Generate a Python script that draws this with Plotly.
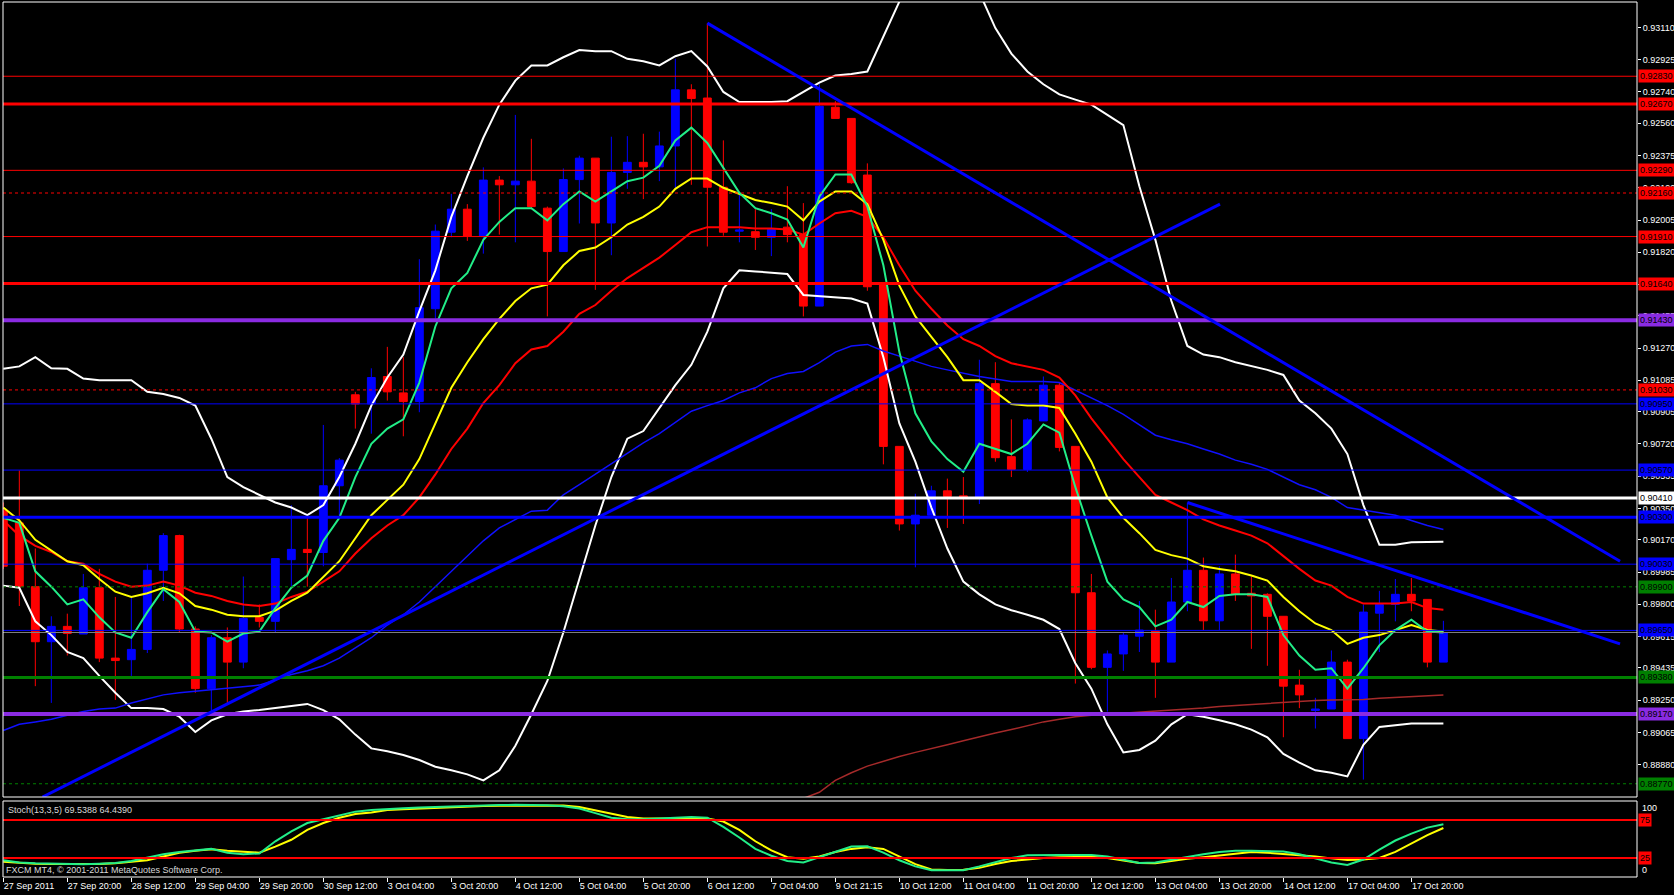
import plotly.graph_objects as go

# ------------------------------------------------------------------ data
bar_index = list(range(91))

open_ = [0.90340, 0.90267, 0.89901, 0.89585, 0.89673, 0.89629, 0.89895, 0.89491, 0.89482, 0.89541,
         0.89995, 0.90194, 0.89658, 0.89316, 0.89608, 0.89468, 0.89725, 0.89702, 0.90056, 0.90115,
         0.90097, 0.90480, 0.91002, 0.90949, 0.91107, 0.91013, 0.90963, 0.91496, 0.91935, 0.92067,
         0.91912, 0.92234, 0.92207, 0.92228, 0.92073, 0.91824, 0.92237, 0.92360, 0.91988, 0.92278,
         0.92336, 0.92310, 0.92430, 0.92752, 0.92705, 0.92193, 0.91941, 0.91938, 0.91906, 0.91964,
         0.91921, 0.91511, 0.92652, 0.92588, 0.92263, 0.91634, 0.90706, 0.90261, 0.90311, 0.90451,
         0.90422, 0.90410, 0.91066, 0.90647, 0.90574, 0.90852, 0.91057, 0.90706, 0.89866, 0.89438,
         0.89515, 0.89617, 0.89646, 0.89468, 0.89813, 0.89995, 0.89705, 0.89974, 0.89863, 0.89857,
         0.89731, 0.89336, 0.89190, 0.89199, 0.89468, 0.89029, 0.89749, 0.89799, 0.89857, 0.89828,
         0.89468]
high = [0.90384, 0.90568, 0.90120, 0.89731, 0.89746, 0.89974, 0.90003, 0.89842, 0.89842, 0.90033,
        0.90208, 0.90199, 0.89673, 0.89623, 0.89667, 0.89959, 0.89799, 0.90062, 0.90369, 0.90296,
        0.90829, 0.90639, 0.91019, 0.91154, 0.91277, 0.91218, 0.91780, 0.91979, 0.92155, 0.92096,
        0.92307, 0.92257, 0.92608, 0.92471, 0.92082, 0.92301, 0.92374, 0.92360, 0.92483, 0.92486,
        0.92500, 0.92512, 0.92930, 0.92784, 0.93135, 0.92462, 0.92149, 0.92067, 0.92067, 0.92199,
        0.92102, 0.92784, 0.92687, 0.92588, 0.92330, 0.91634, 0.90706, 0.90434, 0.90480, 0.90521,
        0.90530, 0.91203, 0.91189, 0.90861, 0.90867, 0.91107, 0.91072, 0.90706, 0.89974, 0.89535,
        0.89638, 0.89819, 0.89769, 0.89951, 0.90384, 0.90068, 0.90018, 0.90085, 0.89959, 0.89863,
        0.89731, 0.89424, 0.89263, 0.89535, 0.89482, 0.89799, 0.89877, 0.89945, 0.89951, 0.89828,
        0.89705]
low = [0.90003, 0.89790, 0.89330, 0.89234, 0.89506, 0.89629, 0.89468, 0.89251, 0.89389, 0.89520,
       0.89819, 0.89638, 0.89292, 0.89184, 0.89228, 0.89433, 0.89667, 0.89638, 0.89901, 0.89901,
       0.90018, 0.90311, 0.90808, 0.90779, 0.90969, 0.90764, 0.90902, 0.91438, 0.91906, 0.91885,
       0.91812, 0.91921, 0.91877, 0.92067, 0.91452, 0.91824, 0.91985, 0.91604, 0.91803, 0.92184,
       0.92125, 0.92228, 0.92184, 0.92207, 0.91853, 0.91915, 0.91877, 0.91833, 0.91798, 0.91877,
       0.91452, 0.91511, 0.92588, 0.92213, 0.91599, 0.90603, 0.90223, 0.90012, 0.90311, 0.90238,
       0.90261, 0.90375, 0.90618, 0.90530, 0.90559, 0.90852, 0.90677, 0.89345, 0.89427, 0.89184,
       0.89418, 0.89526, 0.89263, 0.89468, 0.89760, 0.89652, 0.89652, 0.89819, 0.89544, 0.89447,
       0.89037, 0.89204, 0.89087, 0.89199, 0.89029, 0.88794, 0.89526, 0.89702, 0.89760, 0.89438,
       0.89468]
close = [0.90018, 0.89901, 0.89585, 0.89673, 0.89632, 0.89895, 0.89491, 0.89477, 0.89541, 0.89995,
         0.90194, 0.89658, 0.89316, 0.89608, 0.89468, 0.89719, 0.89702, 0.90062, 0.90115, 0.90097,
         0.90480, 0.90627, 0.90949, 0.91101, 0.91019, 0.90963, 0.91502, 0.91941, 0.92067, 0.91912,
         0.92234, 0.92207, 0.92228, 0.92082, 0.91824, 0.92237, 0.92360, 0.91988, 0.92278, 0.92336,
         0.92310, 0.92430, 0.92752, 0.92702, 0.92193, 0.91935, 0.91947, 0.91906, 0.91950, 0.91921,
         0.91511, 0.92658, 0.92588, 0.92219, 0.91622, 0.90706, 0.90261, 0.90311, 0.90451, 0.90419,
         0.90410, 0.91066, 0.90641, 0.90574, 0.90858, 0.91057, 0.90700, 0.89866, 0.89438, 0.89515,
         0.89623, 0.89652, 0.89468, 0.89813, 0.89995, 0.89705, 0.89974, 0.89857, 0.89848, 0.89731,
         0.89330, 0.89280, 0.89199, 0.89468, 0.89029, 0.89755, 0.89799, 0.89857, 0.89819, 0.89468,
         0.89638]

ma_green = [0.90296, 0.90267, 0.89989, 0.89901, 0.89799, 0.89828, 0.89725, 0.89638, 0.89608, 0.89755,
            0.89886, 0.89813, 0.89643, 0.89638, 0.89585, 0.89632, 0.89643, 0.89778, 0.89895, 0.89965,
            0.90164, 0.90296, 0.90530, 0.90721, 0.90808, 0.90861, 0.91072, 0.91394, 0.91613, 0.91701,
            0.91891, 0.91994, 0.92073, 0.92073, 0.92003, 0.92096, 0.92169, 0.92111, 0.92169, 0.92228,
            0.92248, 0.92316, 0.92462, 0.92535, 0.92447, 0.92301, 0.92161, 0.92073, 0.92044, 0.92008,
            0.91847, 0.92140, 0.92266, 0.92266, 0.92082, 0.91745, 0.91247, 0.90896, 0.90735, 0.90633,
            0.90560, 0.90721, 0.90691, 0.90662, 0.90721, 0.90832, 0.90785, 0.90472, 0.90194, 0.89930,
            0.89828, 0.89784, 0.89673, 0.89711, 0.89813, 0.89784, 0.89848, 0.89857, 0.89857, 0.89842,
            0.89623, 0.89506, 0.89424, 0.89433, 0.89316, 0.89433, 0.89564, 0.89652, 0.89711, 0.89643,
            0.89638]
ma_yellow = [0.90355, 0.90281, 0.90170, 0.90106, 0.90047, 0.90024, 0.89945, 0.89872, 0.89842, 0.89863,
             0.89895, 0.89863, 0.89790, 0.89769, 0.89740, 0.89731, 0.89731, 0.89763, 0.89819, 0.89866,
             0.89959, 0.90047, 0.90179, 0.90311, 0.90399, 0.90486, 0.90633, 0.90838, 0.91042, 0.91189,
             0.91321, 0.91438, 0.91540, 0.91613, 0.91634, 0.91745, 0.91827, 0.91847, 0.91906, 0.91979,
             0.92023, 0.92082, 0.92184, 0.92243, 0.92243, 0.92190, 0.92155, 0.92120, 0.92102, 0.92082,
             0.92003, 0.92111, 0.92169, 0.92169, 0.92096, 0.91891, 0.91628, 0.91452, 0.91335, 0.91218,
             0.91086, 0.91086, 0.91019, 0.90949, 0.90940, 0.90940, 0.90926, 0.90779, 0.90618, 0.90413,
             0.90296, 0.90208, 0.90112, 0.90082, 0.90062, 0.90018, 0.90003, 0.89989, 0.89965, 0.89936,
             0.89842, 0.89760, 0.89690, 0.89652, 0.89573, 0.89608, 0.89623, 0.89652, 0.89681, 0.89652,
             0.89643]
ma_red = [0.90281, 0.90194, 0.90135, 0.90100, 0.90047, 0.90033, 0.89974, 0.89930, 0.89901, 0.89907,
          0.89930, 0.89907, 0.89866, 0.89848, 0.89819, 0.89799, 0.89790, 0.89804, 0.89842, 0.89872,
          0.89930, 0.89989, 0.90091, 0.90179, 0.90252, 0.90311, 0.90413, 0.90545, 0.90691, 0.90808,
          0.90955, 0.91057, 0.91183, 0.91262, 0.91282, 0.91364, 0.91467, 0.91517, 0.91599, 0.91672,
          0.91730, 0.91789, 0.91862, 0.91935, 0.91964, 0.91964, 0.91964, 0.91956, 0.91956, 0.91950,
          0.91921, 0.91985, 0.92044, 0.92058, 0.92023, 0.91906, 0.91745, 0.91599, 0.91496, 0.91400,
          0.91321, 0.91282, 0.91224, 0.91183, 0.91165, 0.91145, 0.91101, 0.90999, 0.90867, 0.90750,
          0.90633, 0.90530, 0.90428, 0.90384, 0.90340, 0.90287, 0.90252, 0.90223, 0.90194, 0.90150,
          0.90077, 0.90003, 0.89936, 0.89907, 0.89842, 0.89804, 0.89804, 0.89804, 0.89813, 0.89778,
          0.89769]
ma_blue = [0.89076, 0.89111, 0.89125, 0.89140, 0.89163, 0.89184, 0.89199, 0.89204, 0.89233, 0.89257,
           0.89280, 0.89292, 0.89301, 0.89307, 0.89316, 0.89324, 0.89336, 0.89365, 0.89397, 0.89418,
           0.89447, 0.89491, 0.89550, 0.89608, 0.89681, 0.89740, 0.89813, 0.89901, 0.89989, 0.90077,
           0.90164, 0.90238, 0.90287, 0.90334, 0.90340, 0.90428, 0.90486, 0.90545, 0.90603, 0.90662,
           0.90726, 0.90779, 0.90843, 0.90908, 0.90940, 0.90969, 0.91013, 0.91042, 0.91095, 0.91124,
           0.91136, 0.91186, 0.91247, 0.91282, 0.91291, 0.91253, 0.91224, 0.91195, 0.91165, 0.91145,
           0.91124, 0.91107, 0.91092, 0.91078, 0.91078, 0.91078, 0.91072, 0.91028, 0.90984, 0.90940,
           0.90890, 0.90829, 0.90770, 0.90744, 0.90721, 0.90691, 0.90662, 0.90627, 0.90603, 0.90574,
           0.90530, 0.90486, 0.90457, 0.90413, 0.90355, 0.90340, 0.90325, 0.90311, 0.90281, 0.90252,
           0.90229]
bb_upper = [0.91151, 0.91165, 0.91218, 0.91154, 0.91151, 0.91095, 0.91086, 0.91086, 0.91086, 0.91019,
            0.91007, 0.90984, 0.90940, 0.90750, 0.90530, 0.90472, 0.90428, 0.90384, 0.90355, 0.90311,
            0.90369, 0.90530, 0.90721, 0.90940, 0.91101, 0.91233, 0.91482, 0.91716, 0.92023, 0.92257,
            0.92477, 0.92667, 0.92805, 0.92892, 0.92892, 0.92939, 0.92980, 0.92974, 0.92974, 0.92930,
            0.92916, 0.92892, 0.92945, 0.92974, 0.92886, 0.92740, 0.92682, 0.92682, 0.92682, 0.92687,
            0.92740, 0.92793, 0.92834, 0.92843, 0.92857, 0.93062, 0.93258, 0.93443, 0.93530, 0.93530,
            0.93443, 0.93311, 0.93106, 0.92960, 0.92857, 0.92784, 0.92726, 0.92696, 0.92667, 0.92608,
            0.92550, 0.92199, 0.91891, 0.91540, 0.91282, 0.91233, 0.91218, 0.91189, 0.91165, 0.91145,
            0.91116, 0.90969, 0.90896, 0.90808, 0.90662, 0.90369, 0.90141, 0.90141, 0.90156, 0.90159,
            0.90159]
bb_lower = [0.89907, 0.89895, 0.89702, 0.89623, 0.89526, 0.89491, 0.89389, 0.89292, 0.89204, 0.89204,
            0.89199, 0.89155, 0.89067, 0.89134, 0.89169, 0.89184, 0.89193, 0.89204, 0.89216, 0.89228,
            0.89193, 0.89140, 0.89052, 0.88973, 0.88956, 0.88935, 0.88906, 0.88868, 0.88847, 0.88824,
            0.88789, 0.88847, 0.88988, 0.89169, 0.89360, 0.89638, 0.89945, 0.90252, 0.90530, 0.90750,
            0.90794, 0.90926, 0.91057, 0.91174, 0.91364, 0.91613, 0.91716, 0.91710, 0.91701, 0.91695,
            0.91575, 0.91569, 0.91563, 0.91555, 0.91525, 0.91218, 0.90838, 0.90618, 0.90355, 0.90120,
            0.89930, 0.89857, 0.89799, 0.89766, 0.89740, 0.89711, 0.89658, 0.89462, 0.89316, 0.89111,
            0.88950, 0.88964, 0.89017, 0.89111, 0.89169, 0.89155, 0.89134, 0.89111, 0.89081, 0.89037,
            0.88941, 0.88891, 0.88847, 0.88833, 0.88812, 0.88994, 0.89096, 0.89105, 0.89116, 0.89116,
            0.89116]
ma_brown_index = list(range(50, 91))
ma_brown = [0.88686, 0.88721, 0.88789, 0.88833, 0.88871, 0.88900, 0.88926, 0.88950, 0.88970, 0.88994,
            0.89017, 0.89040, 0.89061, 0.89081, 0.89105, 0.89125, 0.89140, 0.89155, 0.89163, 0.89169,
            0.89175, 0.89181, 0.89184, 0.89193, 0.89199, 0.89204, 0.89213, 0.89219, 0.89228, 0.89233,
            0.89239, 0.89245, 0.89248, 0.89251, 0.89251, 0.89254, 0.89260, 0.89266, 0.89272, 0.89277,
            0.89280]

stoch_main = [22, 19, 18, 17.5, 17, 16.7, 17.5, 18.5, 21, 26,
              30, 33, 35, 37, 32, 30, 31, 47, 60, 71,
              76, 81, 86, 88, 89.5, 90.5, 91.5, 92.3, 93, 93.4,
              94, 94.7, 95, 95, 94.5, 93, 90, 84, 78, 76,
              76, 77, 78, 79, 78, 66, 52, 37, 28, 21,
              19, 26, 33, 40, 40.5, 32, 22, 14, 9, 8.8,
              9, 14, 20, 25, 28.5, 29, 29, 29, 29, 27,
              23, 18.5, 19, 23, 26.5, 30, 33, 34.6, 34.5, 34,
              33.5, 30, 25, 19, 15.8, 23, 36, 48, 57, 65,
              69.5388]
stoch_signal = [20, 18.5, 17.5, 17, 17, 17, 17, 18, 20, 22,
                27, 32, 34.5, 36.4, 34.5, 33, 32, 40, 49, 62,
                71, 78, 83, 85, 88, 89, 90, 91, 92, 93,
                93.4, 93.8, 94, 94.5, 94.5, 94, 92, 88, 83, 79,
                77, 77, 77, 77, 77, 73, 62, 47, 35, 26,
                24, 27, 33, 37, 39, 37, 27, 17, 10, 9.3,
                9.6, 12, 17, 21, 23, 25, 26, 26.5, 26.7, 25,
                22, 18.5, 18, 21, 24, 26, 28.5, 31, 33, 32,
                30.5, 29, 27, 24.5, 22.4, 23, 25, 33, 44, 55,
                64.4390]
stoch_levels = [75, 25]

time_tick_index = [0, 4, 8, 12, 16, 20, 24, 28, 32, 36, 40, 44, 48, 52, 56, 60, 64, 68, 72, 76, 80, 84, 88]
time_tick_labels = ["27 Sep 2011", "27 Sep 20:00", "28 Sep 12:00", "29 Sep 04:00", "29 Sep 20:00",
                    "30 Sep 12:00", "3 Oct 04:00", "3 Oct 20:00", "4 Oct 12:00", "5 Oct 04:00",
                    "5 Oct 20:00", "6 Oct 12:00", "7 Oct 04:00", "9 Oct 21:15", "10 Oct 12:00",
                    "11 Oct 04:00", "11 Oct 20:00", "12 Oct 12:00", "13 Oct 04:00", "13 Oct 20:00",
                    "14 Oct 12:00", "17 Oct 04:00", "17 Oct 20:00"]
price_tick_values = [0.93110, 0.92925, 0.92740, 0.92560, 0.92375, 0.92190, 0.92005, 0.91820, 0.91635,
                     0.91455, 0.91270, 0.91085, 0.90905, 0.90720, 0.90535, 0.90350, 0.90170, 0.89985,
                     0.89800, 0.89615, 0.89435, 0.89250, 0.89065, 0.88880]

# horizontal levels: price, colour, width, dash
level_prices = [0.92830, 0.92670, 0.92290, 0.92160, 0.91910, 0.91640, 0.91430, 0.91030, 0.90950,
                0.90570, 0.90410, 0.90300, 0.90030, 0.89900, 0.89650, 0.89380, 0.89170, 0.88770, 0.88690]
level_colors = ["#FF0000", "#FF0000", "#FF0000", "#FF0000", "#FF0000", "#FF0000", "#8A2BE2", "#FF0000",
                "#0000FF", "#0000FF", "#FFFFFF", "#0000FF", "#0000FF", "#008000", "#0000FF", "#008000",
                "#8A2BE2", "#008000", "#008000"]
level_widths = [1, 3, 1, 1, 1, 3, 4, 1, 1, 1, 3, 3, 1, 1, 1, 3, 4, 1, 1]
level_dashes = ["solid", "solid", "solid", "3px,3px", "solid", "solid", "solid", "3px,3px", "solid",
                "solid", "solid", "solid", "solid", "3px,3px", "solid", "solid", "solid", "3px,3px", "solid"]

# trend lines (bar index / price of both ends)
trend_x0 = [44.0, 2.45, 74.0]
trend_y0 = [0.93135, 0.88694, 0.90384]
trend_x1 = [101.04, 76.04, 101.04]
trend_y1 = [0.90047, 0.92096, 0.89573]

stoch_caption = "Stoch(13,3,5) 69.5388 64.4390"
copyright_text = "FXCM MT4, \u00a9 2001-2011 MetaQuotes Software Corp."

# ------------------------------------------------------------------ geometry
FIG_W, FIG_H = 1674, 895
PL, PR = 3, 1637
MAIN_T, MAIN_B = 2, 797
STO_T, STO_B = 801, 877
X_RANGE = [-0.02, 102.1]
Y_RANGE = [0.88694, 0.93256]
FONT = "Liberation Sans"


def fx(p):
    return p / FIG_W


def fy(p):
    return 1 - p / FIG_H


fig = go.Figure()

fig.add_trace(go.Candlestick(
    x=bar_index, open=open_, high=high, low=low, close=close,
    increasing=dict(line=dict(color="#0000FF", width=1), fillcolor="#0000FF"),
    decreasing=dict(line=dict(color="#FF0000", width=1), fillcolor="#FF0000"),
    whiskerwidth=0, showlegend=False, hoverinfo="skip", xaxis="x", yaxis="y"))

line_specs = [
    (bar_index, bb_upper, "#FFFFFF", 2),
    (bar_index, bb_lower, "#FFFFFF", 2),
    (bar_index, ma_blue, "#1010FF", 1.5),
    (ma_brown_index, ma_brown, "#A52A2A", 1.5),
    (bar_index, ma_red, "#FF0000", 2),
    (bar_index, ma_yellow, "#FFFF00", 2),
    (bar_index, ma_green, "#22EE88", 2),
]
for xs, ys, col, w in line_specs:
    fig.add_trace(go.Scatter(x=xs, y=ys, mode="lines", line=dict(color=col, width=w),
                             showlegend=False, hoverinfo="skip", xaxis="x", yaxis="y"))

fig.add_trace(go.Scatter(x=bar_index, y=stoch_signal, mode="lines", line=dict(color="#FFFF00", width=2),
                         showlegend=False, hoverinfo="skip", xaxis="x2", yaxis="y2"))
fig.add_trace(go.Scatter(x=bar_index, y=stoch_main, mode="lines", line=dict(color="#22EE88", width=2),
                         showlegend=False, hoverinfo="skip", xaxis="x2", yaxis="y2"))

shapes = []
annotations = []

for p, c, w, d in zip(level_prices, level_colors, level_widths, level_dashes):
    shapes.append(dict(type="line", xref="x domain", x0=0, x1=1, yref="y", y0=p, y1=p,
                       line=dict(color=c, width=w, dash=d), layer="above"))
    annotations.append(dict(xref="paper", x=fx(PR + 1), yref="y", y=p, xanchor="left", yanchor="middle",
                            text=f"{p:.5f}", showarrow=False, bgcolor=c, borderpad=1,
                            font=dict(family=FONT, size=9, color="#000000")))

# bid line at last close
shapes.append(dict(type="line", xref="x domain", x0=0, x1=1, yref="y", y0=close[-1], y1=close[-1],
                   line=dict(color="#808080", width=1), layer="above"))

for a, b, c, d in zip(trend_x0, trend_y0, trend_x1, trend_y1):
    shapes.append(dict(type="line", xref="x", yref="y", x0=a, y0=b, x1=c, y1=d,
                       line=dict(color="#0000FF", width=3), layer="above"))

for lv in stoch_levels:
    shapes.append(dict(type="line", xref="x2 domain", x0=0, x1=1, yref="y2", y0=lv, y1=lv,
                       line=dict(color="#FF0000", width=2), layer="above"))
    annotations.append(dict(xref="paper", x=fx(PR + 1), yref="y2", y=lv, xanchor="left", yanchor="middle",
                            text=str(lv), showarrow=False, bgcolor="#FF0000", borderpad=1,
                            font=dict(family=FONT, size=9, color="#000000")))

annotations.append(dict(xref="paper", x=fx(PR + 3), yref="y2", y=100, xanchor="left", yanchor="top",
                        text="100", showarrow=False, font=dict(family=FONT, size=9, color="#FFFFFF")))
annotations.append(dict(xref="paper", x=fx(PR + 3), yref="y2", y=0, xanchor="left", yanchor="bottom",
                        text="0", showarrow=False, font=dict(family=FONT, size=9, color="#FFFFFF")))
annotations.append(dict(xref="paper", x=fx(6), yref="paper", y=fy(810), xanchor="left", yanchor="middle",
                        text=stoch_caption, showarrow=False, font=dict(family=FONT, size=9, color="#D8D8D8")))
annotations.append(dict(xref="paper", x=fx(4), yref="paper", y=fy(870), xanchor="left", yanchor="middle",
                        text=copyright_text, showarrow=False, font=dict(family=FONT, size=9, color="#D8D8D8")))

# panel borders
for top, bot in [(MAIN_T, MAIN_B), (STO_T, STO_B)]:
    shapes.append(dict(type="rect", xref="paper", yref="paper", x0=fx(PL), x1=fx(PR), y0=fy(bot), y1=fy(top),
                       line=dict(color="#FFFFFF", width=1), fillcolor="rgba(0,0,0,0)", layer="above"))

fig.update_layout(
    width=FIG_W, height=FIG_H, autosize=False,
    margin=dict(l=0, r=0, t=0, b=0, pad=0),
    paper_bgcolor="#000000", plot_bgcolor="#000000",
    hovermode=False, showlegend=False,
    font=dict(family=FONT, size=9, color="#FFFFFF"),
    shapes=shapes, annotations=annotations,
    xaxis=dict(domain=[fx(PL), fx(PR)], range=X_RANGE, anchor="y", showgrid=False, zeroline=False,
               showticklabels=False, ticks="", rangeslider=dict(visible=False), fixedrange=True),
    yaxis=dict(domain=[fy(MAIN_B), fy(MAIN_T)], range=Y_RANGE, anchor="x", side="right",
               tickvals=price_tick_values, ticktext=[f"{v:.5f}" for v in price_tick_values],
               ticks="outside", ticklen=3, tickcolor="#FFFFFF", tickwidth=1,
               tickfont=dict(family=FONT, size=9, color="#FFFFFF"),
               showgrid=False, zeroline=False, showline=False, fixedrange=True),
    xaxis2=dict(domain=[fx(PL), fx(PR)], range=X_RANGE, anchor="y2", matches="x",
                tickvals=time_tick_index, ticktext=time_tick_labels, ticks="outside", ticklen=4,
                tickcolor="#FFFFFF", tickwidth=1, ticklabelposition="outside right",
                tickfont=dict(family=FONT, size=9, color="#FFFFFF"), tickangle=0,
                showgrid=False, zeroline=False, showline=False, fixedrange=True),
    yaxis2=dict(domain=[fy(STO_B), fy(STO_T)], range=[0, 100], anchor="x2", showticklabels=False,
                ticks="", showgrid=False, zeroline=False, fixedrange=True),
)

fig.write_html("out.html", config={"displayModeBar": False, "staticPlot": True},
               post_script="document.body.style.margin='0px';document.body.style.overflow='hidden';")
